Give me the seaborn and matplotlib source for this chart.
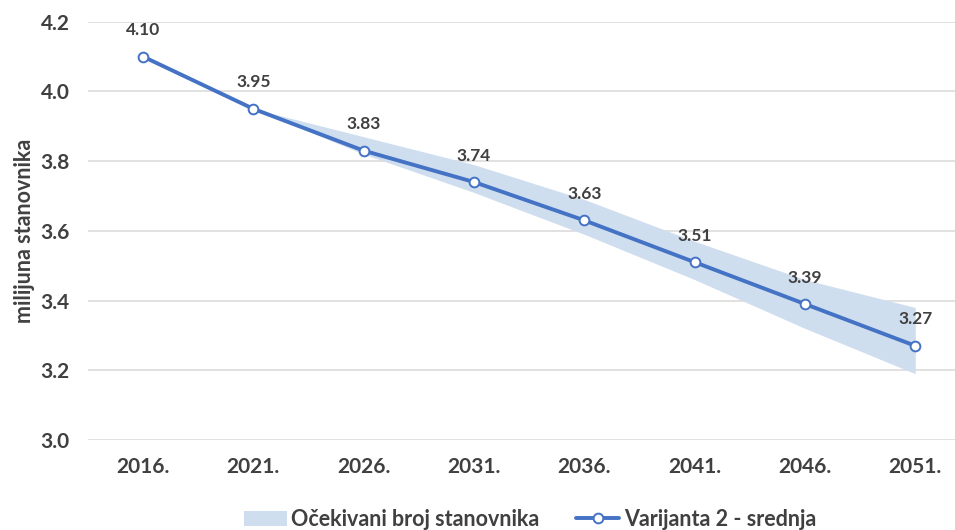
import pandas as pd
import matplotlib
matplotlib.use("Agg")
import matplotlib.pyplot as plt
import seaborn as sns

# Data
years = ["2016.", "2021.", "2026.", "2031.", "2036.", "2041.", "2046.", "2051."]
srednja = [4.10, 3.95, 3.83, 3.74, 3.63, 3.51, 3.39, 3.27]
band_years = years[1:]
band_upper = [3.95, 3.87, 3.79, 3.69, 3.57, 3.46, 3.38]
band_lower = [3.95, 3.82, 3.71, 3.59, 3.46, 3.32, 3.19]
y_ticks = [3.0, 3.2, 3.4, 3.6, 3.8, 4.0, 4.2]

sns.set_theme(style="whitegrid")
plt.rcParams['font.family'] = ['Lato', 'DejaVu Sans']

text_col = "#404040"
line_col = "#4472C4"
band_col = "#cfdeee"

df = pd.DataFrame({"Godina": years, "Stanovnici": srednja})

fig = plt.figure(figsize=(9.55, 5.30), dpi=100)
ax = fig.add_axes([0.092, 0.170, 0.908, 0.789])

# line first so the category order follows the years list
sns.lineplot(data=df, x="Godina", y="Stanovnici", ax=ax, color=line_col,
             linewidth=2.8, marker="o", markersize=7, markerfacecolor="white",
             markeredgecolor=line_col, markeredgewidth=1.4,
             label="Varijanta 2 - srednja", zorder=3, legend=False)

ax.fill_between(band_years, band_lower, band_upper, color=band_col, lw=0,
                label="Očekivani broj stanovnika", zorder=1)

for x, v in zip(years, srednja):
    ax.annotate(f"{v:.2f}", (x, v), xytext=(0, 19), textcoords="offset points",
                ha="center", va="center", fontsize=12.5, fontweight="bold",
                color=text_col)

ax.set_ylim(3.0, 4.2)
ax.set_xlim(-0.5, 7.36)
ax.set_yticks(y_ticks)
ax.set_yticklabels([f"{t:.1f}" for t in y_ticks])
ax.set_xlabel("")
ax.set_ylabel("milijuna stanovnika", fontsize=15.5, fontweight="bold",
              color=text_col, labelpad=4)

ax.grid(axis="y", color="#d9d9d9", linewidth=1.1)
ax.grid(axis="x", visible=False)
for s in ax.spines.values():
    s.set_visible(False)
ax.tick_params(axis="both", length=0, labelsize=15, labelcolor=text_col)
ax.tick_params(axis="y", pad=13)
ax.tick_params(axis="x", pad=12)
for lab in ax.get_xticklabels() + ax.get_yticklabels():
    lab.set_fontweight("bold")

handles, labels = ax.get_legend_handles_labels()
order = [labels.index("Očekivani broj stanovnika"), labels.index("Varijanta 2 - srednja")]
leg = fig.legend([handles[i] for i in order], [labels[i] for i in order],
                 loc="center", bbox_to_anchor=(0.555, 0.02),
                 ncol=2, frameon=False, fontsize=15.5, handlelength=2.0,
                 columnspacing=1.7, handletextpad=0.2)
for t in leg.get_texts():
    t.set_color(text_col)
    t.set_fontweight("bold")

fig.savefig("out.png", dpi=100)
